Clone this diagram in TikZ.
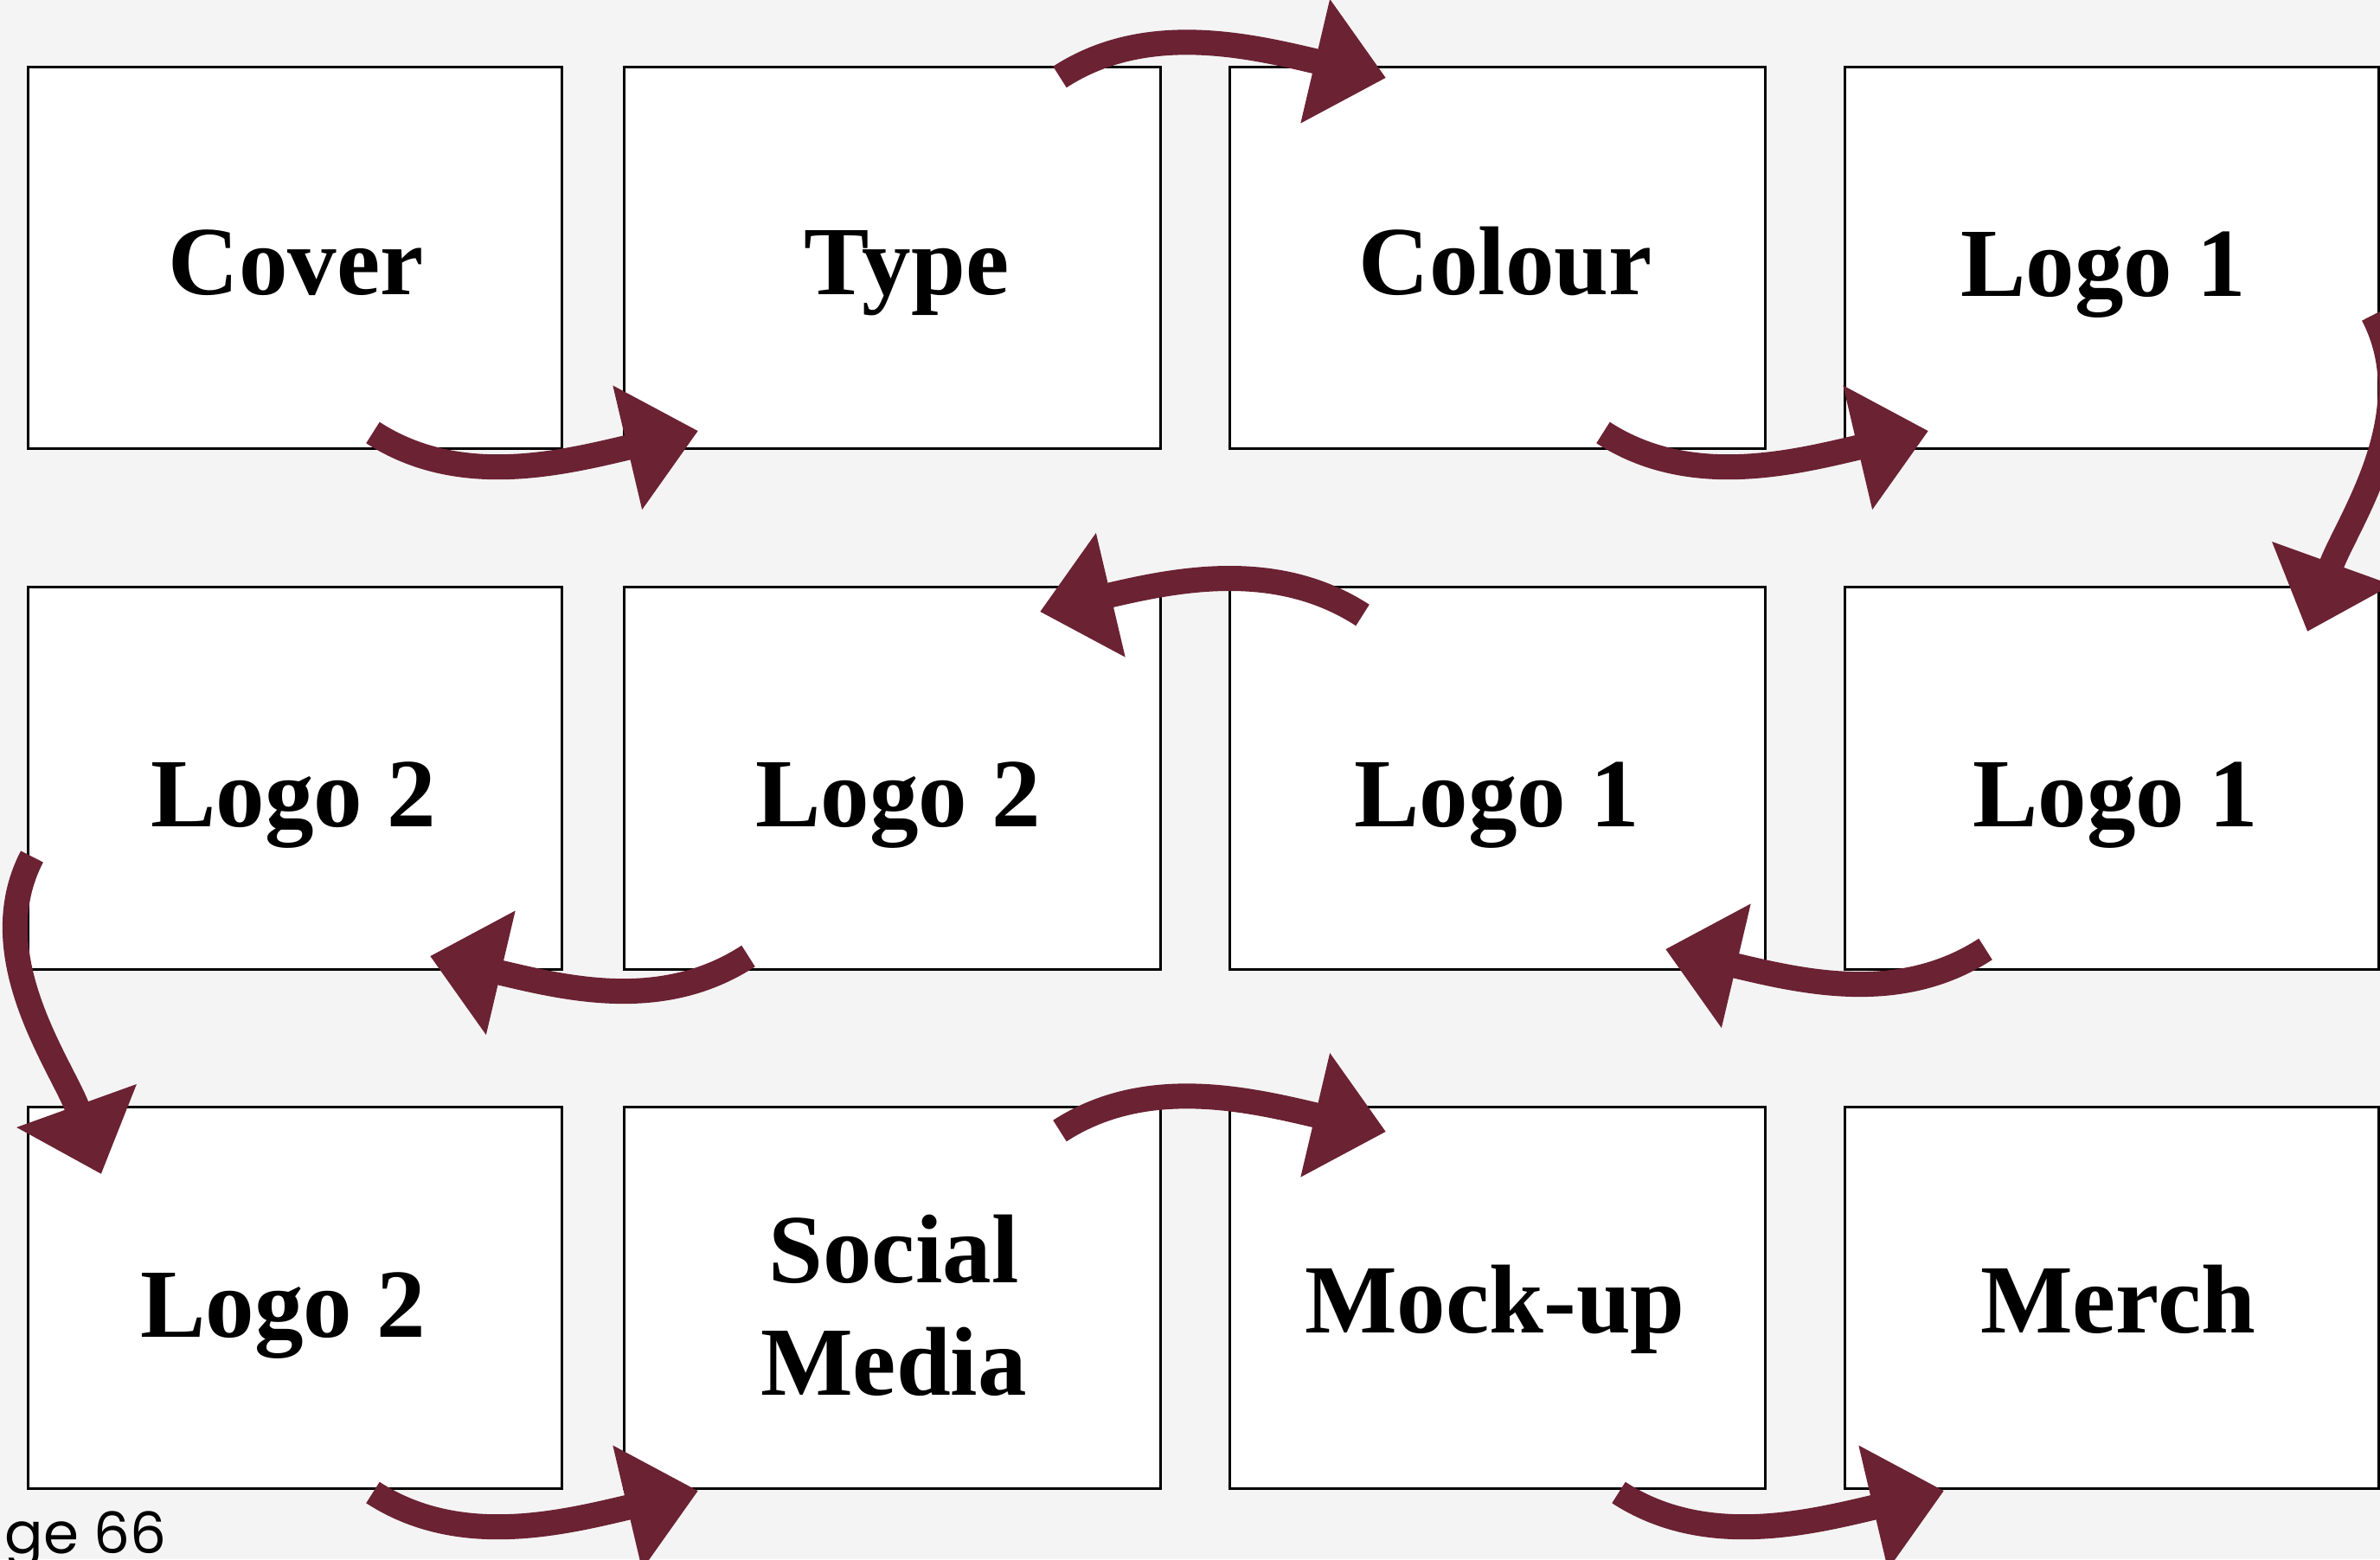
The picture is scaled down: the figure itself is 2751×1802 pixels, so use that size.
\documentclass[tikz,border=0pt]{standalone}
\usepackage{fontspec}
\setmainfont{Liberation Serif}
\newfontfamily\pagefont{Poppins}
\usetikzlibrary{arrows.meta}
\definecolor{arrowred}{HTML}{6B2233}
\definecolor{paper}{HTML}{F4F4F4}
\tikzset{
  box/.style={draw=black, line width=3pt, fill=white, rectangle, inner sep=0pt, outer sep=0pt, anchor=north west},
  lbl/.style={font=\fontsize{113}{130}\selectfont\bfseries, inner sep=0pt, anchor=base, align=center},
  pagelbl/.style={font=\pagefont\fontsize{66}{70}\selectfont, inner sep=0pt, anchor=base east},
  arr/.style={draw=arrowred, line width=29pt, -{Triangle[length=84pt,width=142pt]}}
}
\begin{document}
\begin{tikzpicture}[x=1pt,y=-1pt]
\useasboundingbox (0,0) rectangle (2751,1802);
\clip (0,0) rectangle (2751,1802);
\fill[paper] (0,0) rectangle (2751,1802);
% boxes
\node[box, minimum width=617pt, minimum height=441pt] (b11) at (32,77) {};
\node[box, minimum width=620pt, minimum height=441pt] (b12) at (721,77) {};
\node[box, minimum width=619pt, minimum height=441pt] (b13) at (1421,77) {};
\node[box, minimum width=617pt, minimum height=441pt] (b14) at (2132,77) {};
\node[box, minimum width=617pt, minimum height=442pt] (b21) at (32,678) {};
\node[box, minimum width=620pt, minimum height=442pt] (b22) at (721,678) {};
\node[box, minimum width=619pt, minimum height=442pt] (b23) at (1421,678) {};
\node[box, minimum width=617pt, minimum height=442pt] (b24) at (2132,678) {};
\node[box, minimum width=617pt, minimum height=441pt] (b31) at (32,1279) {};
\node[box, minimum width=620pt, minimum height=441pt] (b32) at (721,1279) {};
\node[box, minimum width=619pt, minimum height=441pt] (b33) at (1421,1279) {};
\node[box, minimum width=617pt, minimum height=441pt] (b34) at (2132,1279) {};
% labels
\node[lbl] (t11) at (342,340) {Cover};
\node[lbl] (t12) at (1048,340) {Type};
\node[lbl] (t13) at (1740,340) {Colour};
\node[lbl] (t14) at (2431,342) {Logo 1};
\node[lbl] (t21) at (339,955) {Logo 2};
\node[lbl] (t22) at (1038,955) {Logo 2};
\node[lbl] (t23) at (1730,955) {Logo 1};
\node[lbl] (t24) at (2445,955) {Logo 1};
\node[lbl] (t31) at (327,1545) {Logo 2};
\node[lbl] (t32) at (1033,1612) {Social\\Media};
\node[lbl] (t33) at (1728,1540) {Mock-up};
\node[lbl] (t34) at (2448,1540) {Merch};
\node[pagelbl] (pg) at (193,1795) {ge 66};
% arrow end points
\coordinate (a1s) at (431,500);   \coordinate (a1e) at (807,498);
\coordinate (a2s) at (1225,89);   \coordinate (a2e) at (1602,90);
\coordinate (a3s) at (1853,500);  \coordinate (a3e) at (2229,498);
\coordinate (a4s) at (2743,364);  \coordinate (a4e) at (2667,730);
\coordinate (a5s) at (1575,711);  \coordinate (a5e) at (1202,707);
\coordinate (a6s) at (2295,1097); \coordinate (a6e) at (1925,1097);
\coordinate (a7s) at (865,1105);  \coordinate (a7e) at (497,1105);
\coordinate (a8s) at (37,990);    \coordinate (a8e) at (117,1357);
\coordinate (a9s) at (431,1725);  \coordinate (a9e) at (807,1723);
\coordinate (a10s) at (1225,1307); \coordinate (a10e) at (1602,1308);
\coordinate (a11s) at (1871,1725); \coordinate (a11e) at (2247,1723);
% arrows
\draw[arr] (a1s) .. controls +(100,65) and +(-157,37) .. (a1e);
\draw[arr] (a2s) .. controls +(100,-65) and +(-157,-37) .. (a2e);
\draw[arr] (a3s) .. controls +(100,65) and +(-157,37) .. (a3e);
\draw[arr] (a4s) .. controls +(60,115) and +(45,-125) .. (a4e);
\draw[arr] (a5s) .. controls +(-100,-65) and +(157,-37) .. (a5e);
\draw[arr] (a6s) .. controls +(-100,65) and +(157,37) .. (a6e);
\draw[arr] (a7s) .. controls +(-100,65) and +(157,37) .. (a7e);
\draw[arr] (a8s) .. controls +(-60,115) and +(-45,-125) .. (a8e);
\draw[arr] (a9s) .. controls +(100,65) and +(-157,37) .. (a9e);
\draw[arr] (a10s) .. controls +(100,-65) and +(-157,-37) .. (a10e);
\draw[arr] (a11s) .. controls +(100,65) and +(-157,37) .. (a11e);
\end{tikzpicture}
\end{document}
